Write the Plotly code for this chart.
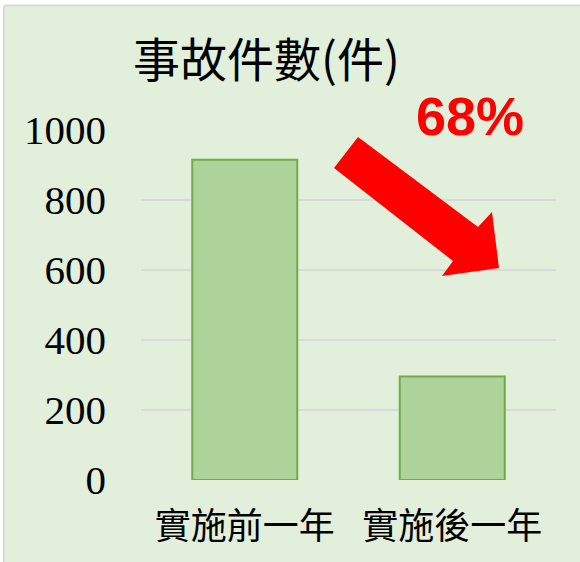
import plotly.graph_objects as go

# ---- data ----
categories = ["實施前一年", "實施後一年"]
accidents = [915, 296]
y_ticks = [0, 200, 400, 600, 800, 1000]
title_text = "事故件數(件)"
drop_label = "68%"

# ---- layout geometry (pixels) ----
W, H = 580, 562
ML, MR, MT, MB = 141, 24, 130, 82
PW, PH = W - ML - MR, H - MT - MB


def px(x):
    return (x - ML) / PW


def py(y):
    return (H - MB - y) / PH


arrow_px = [(358, 137), (478, 227), (492, 212), (499, 268),
            (442, 276), (453, 261), (334, 168)]
arrow_path = "M " + " L ".join(f"{px(x):.5f},{py(y):.5f}" for x, y in arrow_px) + " Z"

fig = go.Figure()
fig.add_trace(go.Bar(
    x=categories, y=accidents,
    marker=dict(color="#ADD29A", line=dict(color="#70AD47", width=2)),
    width=0.506,
    hoverinfo="x+y",
))

fig.update_layout(
    width=W, height=H,
    margin=dict(l=ML, r=MR, t=MT, b=MB, autoexpand=False),
    paper_bgcolor="white",
    plot_bgcolor="rgba(0,0,0,0)",
    showlegend=False,
    xaxis=dict(
        showgrid=False, zeroline=False, showline=False,
        tickfont=dict(family="Noto Sans CJK TC", size=36, color="black"),
        ticklabelstandoff=22,
    ),
    yaxis=dict(
        range=[0, 1000], tickvals=y_ticks,
        showgrid=True, gridcolor="#D9D9D9", gridwidth=1.5,
        zeroline=False, showline=False,
        tickfont=dict(family="Liberation Serif", size=41, color="black"),
        ticklabelstandoff=34,
    ),
    shapes=[
        dict(type="rect", xref="paper", yref="paper",
             x0=px(4), x1=px(600), y0=py(5.5), y1=py(600),
             fillcolor="#E2EFDA", line=dict(width=0), layer="below"),
        dict(type="line", xref="paper", yref="paper",
             x0=px(4), x1=px(600), y0=py(5.5), y1=py(5.5),
             line=dict(color="#D9D9D9", width=2), layer="below"),
        dict(type="line", xref="paper", yref="paper",
             x0=px(4), x1=px(4), y0=py(5.5), y1=py(600),
             line=dict(color="#D9D9D9", width=2), layer="below"),
        dict(type="path", xref="paper", yref="paper", path=arrow_path,
             fillcolor="#FF0000", line=dict(width=0), layer="above"),
    ],
    annotations=[
        dict(text=title_text, xref="paper", yref="paper",
             x=px(266), y=py(57), xanchor="center", yanchor="middle",
             showarrow=False,
             font=dict(family="Noto Sans CJK TC", size=47, color="black")),
        dict(text=f"<b>{drop_label}</b>", xref="paper", yref="paper",
             x=px(470), y=py(116), xanchor="center", yanchor="middle",
             showarrow=False,
             font=dict(family="Liberation Sans", size=54, color="#FF0000")),
    ],
)

fig.write_html("out.html", config={"displayModeBar": False},
               post_script="document.body.style.margin='0';")
